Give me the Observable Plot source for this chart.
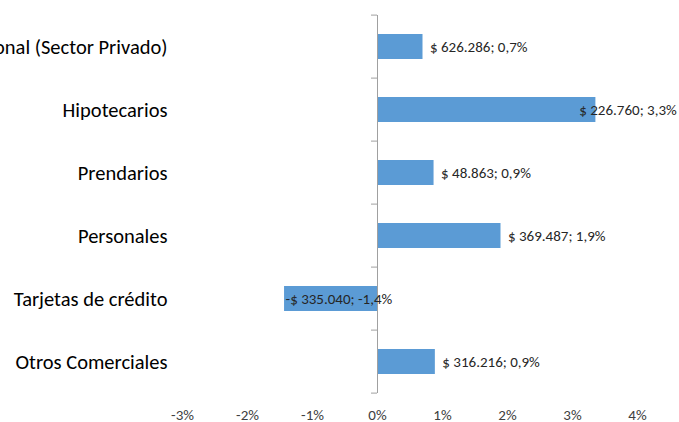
<!DOCTYPE html>
<html>
<head>
<meta charset="utf-8">
<script src="https://cdn.jsdelivr.net/npm/d3@7"></script>
<script src="https://cdn.jsdelivr.net/npm/@observablehq/plot@0.6"></script>
<style>
  html, body { margin: 0; padding: 0; background: #fff; overflow: hidden; }
  #chart svg { display: block; }
</style>
</head>
<body>
<div id="chart"></div>
<script>
const categories = [
  "Total Moneda Nacional (Sector Privado)",
  "Hipotecarios",
  "Prendarios",
  "Personales",
  "Tarjetas de crédito",
  "Otros Comerciales"
];
const pctValues = [0.70, 3.36, 0.87, 1.90, -1.43, 0.89];
const valueLabels = [
  "$ 626.286; 0,7%",
  "$ 226.760; 3,3%",
  "$ 48.863; 0,9%",
  "$ 369.487; 1,9%",
  "-$ 335.040; -1,4%",
  "$ 316.216; 0,9%"
];
const xTicks = [-3, -2, -1, 0, 1, 2, 3, 4];

const data = categories.map((c, i) => ({category: c, pct: pctValues[i], label: valueLabels[i]}));

const FONT = "Carlito, 'Liberation Sans Narrow', 'DejaVu Sans Condensed', sans-serif";
const W = 679, H = 422;

function boundaryTicks(index, scales) {
  const y = scales.y, x = scales.x;
  const step = y(categories[1]) - y(categories[0]);
  const half = step * 0.3;
  const ys = categories.map(c => y(c) - half);
  ys.push(y(categories[categories.length - 1]) + step - half);
  const x0 = x(0);
  const g = d3.create("svg:g");
  g.selectAll("line").data(ys).join("line")
    .attr("x1", x0 - 6).attr("x2", x0)
    .attr("y1", d => d).attr("y2", d => d)
    .attr("stroke", "#a0a0a0").attr("stroke-width", 1);
  return g.node();
}

const chart = Plot.plot({
  width: W,
  height: H,
  marginTop: 15,
  marginBottom: 29,
  marginLeft: 182,
  marginRight: 42,
  style: {fontFamily: FONT, background: "#fff", overflow: "visible"},
  x: {domain: [-3, 4], axis: null},
  y: {domain: categories, paddingInner: 0.6, paddingOuter: 0.3, axis: null},
  marks: [
    Plot.barX(data, {x: "pct", y: "category", fill: "#5B9BD5"}),
    Plot.ruleX([0], {stroke: "#a0a0a0", strokeWidth: 1}),
    boundaryTicks,
    Plot.text(data, {y: "category", text: "category", frameAnchor: "left", textAnchor: "end", dx: -15, fontSize: 20.5, fill: "#000"}),
    Plot.text(xTicks, {x: d => d, text: d => d + "%", frameAnchor: "bottom", dy: 26, fontSize: 15, fill: "#404040"}),
    Plot.text(data.filter(d => d.pct >= 0), {x: "pct", y: "category", text: "label", textAnchor: "start", dx: 7, fontSize: 15, fill: "#262626"}),
    Plot.text(data.filter(d => d.pct < 0), {x: "pct", y: "category", text: "label", textAnchor: "start", dx: 1, fontSize: 15, fill: "#262626"})
  ]
});

document.getElementById("chart").append(chart);

// Keep data labels within the chart area (as the original chart does)
chart.querySelectorAll("text").forEach(t => {
  if (!valueLabels.includes(t.textContent)) return;
  const b = t.getBoundingClientRect();
  const limit = W - 2;
  if (b.right > limit) {
    const cur = t.getAttribute("transform") || "";
    t.setAttribute("transform", `translate(${-(b.right - limit)},0) ` + cur);
  }
});
</script>
</body>
</html>
